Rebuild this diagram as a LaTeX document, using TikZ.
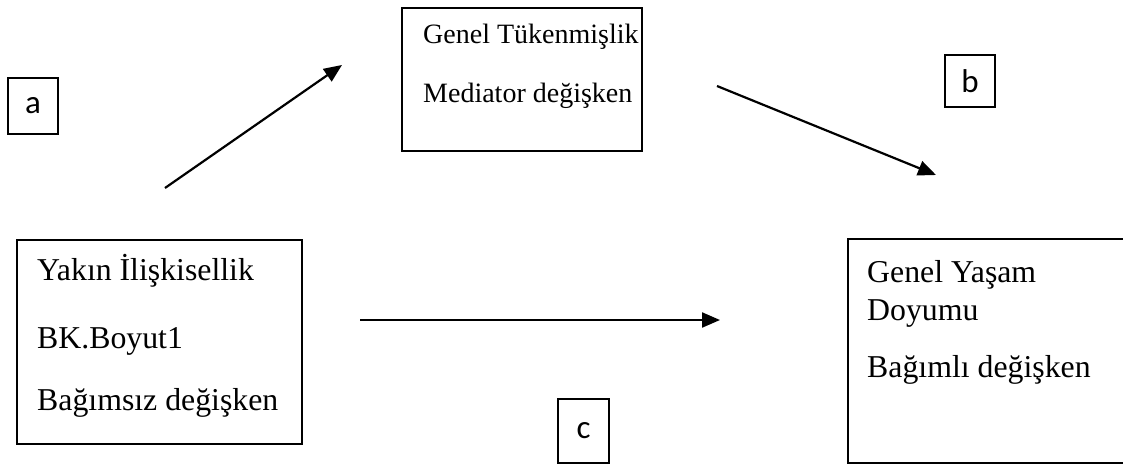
\documentclass[tikz,border=0pt]{standalone}
\usepackage{fontspec}
\setmainfont{Liberation Serif}
\newfontfamily\lblfont{Carlito}
\usetikzlibrary{arrows.meta}
\tikzset{
  boxline/.style={line width=2pt, draw=black},
  bigtxt/.style={anchor=base west, inner sep=0pt, font=\fontsize{31.8}{38}\selectfont},
  midtxt/.style={anchor=base west, inner sep=0pt, font=\fontsize{28}{34}\selectfont},
  letterbox/.style={draw=black, line width=2pt, inner sep=0pt, font=\lblfont\fontsize{33}{38}\selectfont},
  conn/.style={line width=2.2pt, -{Triangle[length=18pt,width=15pt]}}
}
\begin{document}
\begin{tikzpicture}[x=1pt,y=-1pt]
\useasboundingbox[fill=white] (0,0) rectangle (1123,466);
% top box
\node[boxline, draw, minimum width=240pt, minimum height=143pt, anchor=north west, inner sep=0pt] (med) at (401,7) {};
\node[midtxt] (medt1) at (423,43) {Genel Tükenmişlik};
\node[midtxt] (medt2) at (423,102) {Mediator değişken};
% left box
\node[boxline, draw, minimum width=285pt, minimum height=204pt, anchor=north west, inner sep=0pt] (ind) at (16,239) {};
\node[bigtxt] (indt1) at (37,280) {Yakın İlişkisellik};
\node[bigtxt] (indt2) at (37,348) {BK.Boyut1};
\node[bigtxt] (indt3) at (37,410) {Bağımsız değişken};
% right box (open on the right edge)
\coordinate (depne) at (1124,239);
\coordinate (depnw) at (848,239);
\coordinate (depsw) at (848,463);
\coordinate (depse) at (1124,463);
\draw[line width=2pt] (depne) -- (depnw) -- (depsw) -- (depse);
\node[bigtxt] (dept1) at (867,282) {Genel Yaşam};
\node[bigtxt] (dept2) at (867,320) {Doyumu};
\node[bigtxt] (dept3) at (867,377) {Bağımlı değişken};
% letter boxes
\node[letterbox, minimum width=50pt, minimum height=56pt] (la) at (33,106) {a};
\node[letterbox, minimum width=50pt, minimum height=52pt] (lb) at (970,81) {b};
\node[letterbox, minimum width=51pt, minimum height=64pt] (lc) at (583.5,431) {c};
% arrows
\coordinate (a1) at (165,188);
\coordinate (a2) at (342,65);
\coordinate (b1) at (717,86);
\coordinate (b2) at (936,175);
\coordinate (c1) at (360,320);
\coordinate (c2) at (720,320);
\draw[conn] (a1) -- (a2);
\draw[conn] (b1) -- (b2);
\draw[conn] (c1) -- (c2);
\end{tikzpicture}
\end{document}
